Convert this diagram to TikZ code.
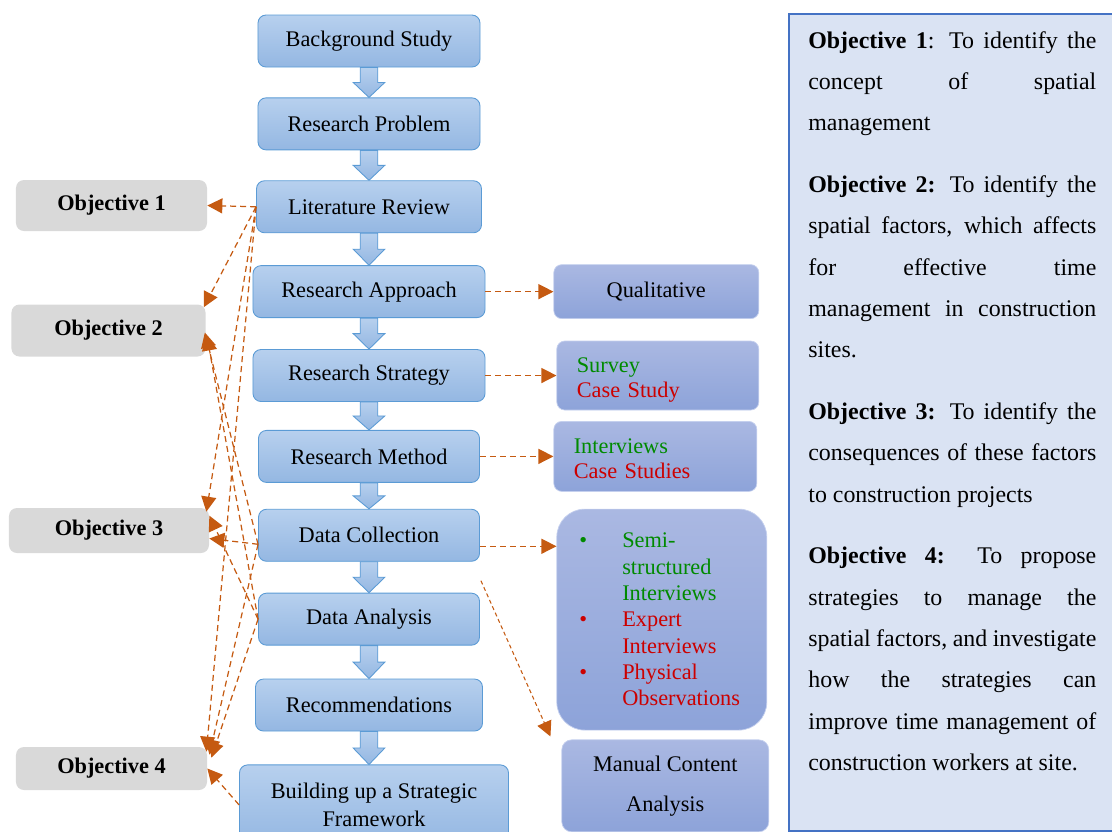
\documentclass[tikz,border=0pt]{standalone}
\usepackage{fontspec}
\setmainfont{Liberation Serif}
\usetikzlibrary{positioning, arrows.meta, calc}
\definecolor{flowtop}{HTML}{B7D0EE}
\definecolor{flowbot}{HTML}{94B7E2}
\definecolor{flowedge}{HTML}{5B9BD5}
\definecolor{methtop}{HTML}{AAB8E2}
\definecolor{methbot}{HTML}{8DA3D9}
\definecolor{methedge}{HTML}{C5D0EE}
\definecolor{objgray}{HTML}{D9D9D9}
\definecolor{panelfill}{HTML}{DAE3F3}
\definecolor{paneledge}{HTML}{4472C4}
\definecolor{linkorange}{HTML}{C55A11}
\definecolor{itemgreen}{HTML}{008A00}
\definecolor{itemred}{HTML}{CC0000}

% block arrow between two stacked steps
\newcommand{\flowstep}[2]{%
  \path[flowarrow] let \p1=(#1.south), \p2=(#2.north), \p3=($(#1.south)!0.5!(#2.north)$) in
    (\x1-5pt,\y1) -- (\x1-5pt,\y3) -- (\x1-9pt,\y3) -- (\x1,\y2)
    -- (\x1+9pt,\y3) -- (\x1+5pt,\y3) -- (\x1+5pt,\y1) -- cycle;}
% one line of a bulleted list
\newcommand{\itemline}[3]{\makebox[8.6mm][l]{\textcolor{#1}{#2}}\textcolor{#1}{#3}}

\begin{document}
\begin{tikzpicture}[
    x=0.2mm, y=-0.2mm,
    >={Triangle[length=3mm, width=3mm]},
    every node/.style={font=\fontsize{12.7}{16.4}\selectfont},
    flowbox/.style={
        draw=flowedge, line width=0.5pt, rounded corners=1.6mm,
        top color=flowtop, bottom color=flowbot,
        minimum width=#1, minimum height=10.4mm, align=center, inner sep=1mm
    },
    flowbox/.default=44.4mm,
    flowarrow/.style={draw=flowedge, line width=0.5pt, top color=flowtop, bottom color=flowbot},
    objbox/.style={fill=objgray, rounded corners=1.6mm, minimum width=#1,
        minimum height=10.2mm, font=\fontsize{12.7}{15}\selectfont\bfseries},
    objbox/.default=38.2mm,
    methbox/.style={draw=methedge, line width=0.4pt, rounded corners=1.6mm,
        top color=methtop, bottom color=methbot, minimum width=#1},
    methbox/.default=41mm,
    objpanel/.style={draw=paneledge, line width=1.1pt, fill=panelfill},
    objtext/.style={text width=57.6mm, align=justify, inner sep=0pt,
        font=\fontsize{13.6}{23.5}\selectfont},
    objlink/.style={->, draw=linkorange, line width=0.7pt, dash pattern=on 1.2mm off 0.8mm},
]
\useasboundingbox (0,0) rectangle (1112,832);

% === Objectives panel ===
\node[objpanel, anchor=north west, minimum width=66mm, minimum height=163.4mm] (panel) at (788,13) {};
\node[objtext, anchor=north west] (objdesc) at (808,31) {\setlength{\parindent}{0pt}%
    \textbf{Objective 1}: To identify the\linebreak concept of spatial\linebreak management\par\vspace{4.1mm}
    \textbf{Objective 2:} To identify the\linebreak spatial factors, which affects\linebreak for effective time\linebreak
    management in construction\linebreak sites.\par\vspace{4.1mm}
    \textbf{Objective 3:} To identify the\linebreak consequences of these factors\linebreak to construction projects\par\vspace{4.1mm}
    \textbf{Objective 4:} To propose\linebreak strategies to manage the\linebreak spatial factors, and investigate\linebreak
    how the strategies can\linebreak improve time management of\linebreak construction workers at site.};

% === Research steps ===
\node[flowbox=44.4mm] (bgstudy) at (369,41) {Background Study};
\node[flowbox=44.4mm, below=6.0mm of bgstudy] (rproblem) {Research Problem};
\node[flowbox=45mm, below=6.0mm of rproblem] (litrev) {Literature Review};
\node[flowbox=46.4mm, below=6.4mm of litrev] (rapproach) {Research Approach};
\node[flowbox=46.4mm, below=6.2mm of rapproach] (rstrategy) {Research Strategy};
\node[flowbox=44.2mm, below=5.6mm of rstrategy] (rmethod) {Research Method};
\node[flowbox=44.2mm, below=5.2mm of rmethod] (dcollect) {Data Collection};
\node[flowbox=44.2mm, below=6.2mm of dcollect] (danalysis) {Data Analysis};
\node[flowbox=45.4mm, below=6.6mm of danalysis] (recommend) {Recommendations};
\node[flowbox=53.8mm, minimum height=16mm, below=6.6mm of recommend, xshift=1mm] (framework)
    {Building up a Strategic\\Framework};

\flowstep{bgstudy}{rproblem}
\flowstep{rproblem}{litrev}
\flowstep{litrev}{rapproach}
\flowstep{rapproach}{rstrategy}
\flowstep{rstrategy}{rmethod}
\flowstep{rmethod}{dcollect}
\flowstep{dcollect}{danalysis}
\flowstep{danalysis}{recommend}
\flowstep{recommend}{framework}

% === Objectives ===
\node[objbox=38.2mm] (obj1) at (111.5,205.5) {Objective 1};
\node[objbox=38.8mm, minimum height=10.4mm] (obj2) at (108.5,330.5) {Objective 2};
\node[objbox=40mm, minimum height=9mm] (obj3) at (109,530.5) {Objective 3};
\node[objbox=38.2mm, minimum height=8.6mm] (obj4) at (111.5,768.5) {Objective 4};

% === Methods ===
\node[methbox=41mm, minimum height=10.8mm, right=13.6mm of rapproach] (qualit) {Qualitative};
\node[methbox=40.4mm, minimum height=13.8mm, right=14.2mm of rstrategy, text width=32.4mm,
    align=left, inner xsep=4mm, font=\fontsize{12.7}{14.2}\selectfont] (survey)
    {\rule{0pt}{14pt}\textcolor{itemgreen}{Survey}\\\textcolor{itemred}{Case Study}};
\node[methbox=40.6mm, minimum height=14mm, right=14.7mm of rmethod, text width=32.6mm,
    align=left, inner xsep=4mm, font=\fontsize{12.7}{14.2}\selectfont] (interv)
    {\rule{0pt}{11pt}\textcolor{itemgreen}{Interviews}\\\textcolor{itemred}{Case Studies}};
\node[methbox=42mm, minimum height=44.2mm, rounded corners=5.6mm, below=3.4mm of interv, xshift=1.3mm,
    text width=33mm, align=left, inner xsep=4.5mm, font=\fontsize{12.7}{15}\selectfont] (bullets)
    {\itemline{itemgreen}{\textbullet}{Semi-}\\
     \itemline{itemgreen}{}{structured}\\
     \itemline{itemgreen}{}{Interviews}\\
     \itemline{itemred}{\textbullet}{Expert}\\
     \itemline{itemred}{}{Interviews}\\
     \itemline{itemred}{\textbullet}{Physical}\\
     \itemline{itemred}{}{Observations}};
\node[methbox=41.4mm, minimum height=18.4mm, rounded corners=2mm, below=1.8mm of bullets, xshift=0.7mm,
    align=center, font=\fontsize{12.7}{22.7}\selectfont] (manual) {Manual Content\\Analysis};

% ===== ARROWS =====

% Steps -> methods
\draw[objlink] (rapproach.east) -- (qualit.west);
\draw[objlink] (rstrategy.east) -- (survey.west);
\draw[objlink] (rmethod.east) -- (interv.west);
\coordinate (dcout) at ([yshift=-2.2mm]dcollect.east);
\draw[objlink] (dcout) -- (dcout -| bullets.west);
\coordinate (manstart) at ($(dcollect.south east)+(1,19)$);
\draw[objlink, line width=0.6pt, dash pattern=on 0.8mm off 0.6mm]
    (manstart) -- ($(manual.north west)+(-11,-3)$);

% Literature review -> objectives
\draw[objlink] (litrev.west) -- (obj1.east);
\draw[objlink] (litrev.west) -- ($(obj2.north east)+(-2,3)$);
\draw[objlink] (litrev.west) -- ($(obj3.north east)+(-3,4)$);
\draw[objlink] (litrev.west) -- ($(obj4.north east)+(-1,5)$);

% Data collection -> objectives
\coordinate (dcwest) at ([yshift=-1.8mm]dcollect.west);
\draw[objlink] (dcwest) -- ($(obj3.east)+(0,8)$);
\draw[objlink] (dcwest) -- ($(obj2.east)+(-1,2)$);
\draw[objlink] (dcwest) -- ($(obj4.north east)+(2,8)$);

% Data analysis -> objectives
\draw[objlink] (danalysis.west) -- ($(obj2.east)+(1,5)$);
\draw[objlink] (danalysis.west) -- ($(obj3.north east)+(0,8)$);
\draw[objlink] (danalysis.west) -- ($(obj4.north east)+(4,11)$);

% Framework -> objective 4
\draw[objlink] (framework.west) -- (obj4.east);

\end{tikzpicture}
\end{document}
